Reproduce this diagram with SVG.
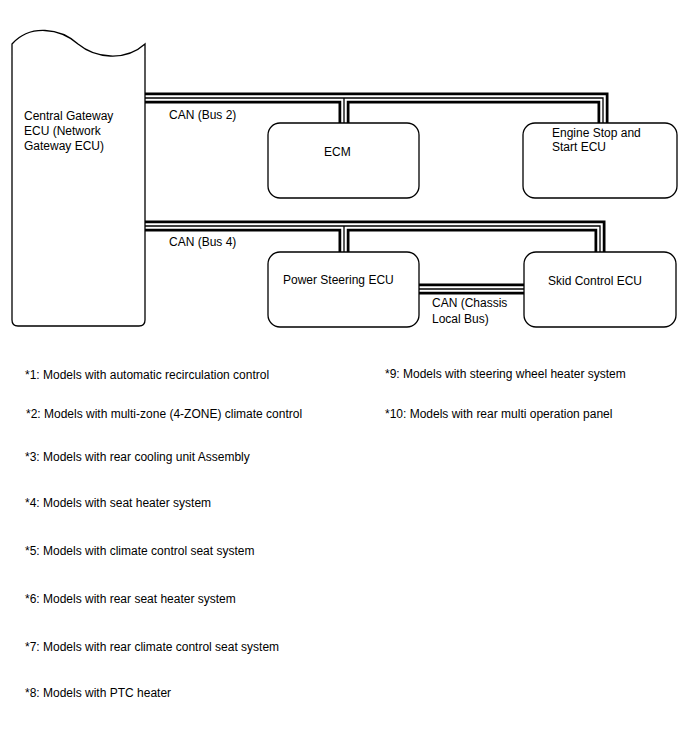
<svg xmlns="http://www.w3.org/2000/svg" xmlns:xlink="http://www.w3.org/1999/xlink" width="688" height="755" viewBox="0 0 688 755">
<style>
text{font-family:"Liberation Sans",Arial,sans-serif;font-size:12px;fill:#000}
.box{fill:#fff;stroke:#000;stroke-width:1.3}
.b1{fill:none;stroke:#000;stroke-width:11;stroke-linejoin:miter}
.b2{fill:none;stroke:#fff;stroke-width:5.5;stroke-linejoin:miter}
.b3{fill:none;stroke:#000;stroke-width:1.3;stroke-linejoin:miter}
</style>
<defs>
<g id="buses">
<path d="M145,98 H603 V123"/>
<path d="M344,98 V123"/>
<path d="M145,226 H600 V252"/>
<path d="M344,226 V252"/>
<path d="M419,289 H524"/>
</g>
</defs>
<rect width="688" height="755" fill="#fff"/>
<g id="connectors">
<use xlink:href="#buses" class="b1"/>
<use xlink:href="#buses" class="b2"/>
<use xlink:href="#buses" class="b3"/>
<text x="169" y="119">CAN (Bus 2)</text>
<text x="169" y="246">CAN (Bus 4)</text>
<text x="432" y="307">CAN (Chassis</text>
<text x="432" y="323">Local Bus)</text>
</g>
<g id="gateway">
<path class="box" d="M12,44 C30,24 60,28 78,44 C95,58 125,62 145,44 L145,320 Q145,326 139,326 L18,326 Q12,326 12,320 Z"/>
<text x="24" y="120">Central Gateway</text>
<text x="24" y="135">ECU (Network</text>
<text x="24" y="150">Gateway ECU)</text>
</g>
<g id="ecm">
<rect class="box" x="268" y="123" width="151" height="75" rx="12"/>
<text x="324" y="156">ECM</text>
</g>
<g id="engine-stop">
<rect class="box" x="523" y="123" width="154" height="75" rx="12"/>
<text x="552" y="137">Engine Stop and</text>
<text x="552" y="151">Start ECU</text>
</g>
<g id="power-steering">
<rect class="box" x="268" y="252" width="151" height="75" rx="12"/>
<text x="283" y="284">Power Steering ECU</text>
</g>
<g id="skid-control">
<rect class="box" x="524" y="252" width="152" height="75" rx="12"/>
<text x="548" y="285">Skid Control ECU</text>
</g>
<g id="notes">
<text x="25" y="379">*1: Models with automatic recirculation control</text>
<text x="26" y="418">*2: Models with multi-zone (4-ZONE) climate control</text>
<text x="25" y="461">*3: Models with rear cooling unit Assembly</text>
<text x="25" y="507">*4: Models with seat heater system</text>
<text x="25" y="555">*5: Models with climate control seat system</text>
<text x="25" y="603">*6: Models with rear seat heater system</text>
<text x="25" y="651">*7: Models with rear climate control seat system</text>
<text x="25" y="697">*8: Models with PTC heater</text>
<text x="385" y="378">*9: Models with steering wheel heater system</text>
<text x="385" y="418">*10: Models with rear multi operation panel</text>
</g>
</svg>
